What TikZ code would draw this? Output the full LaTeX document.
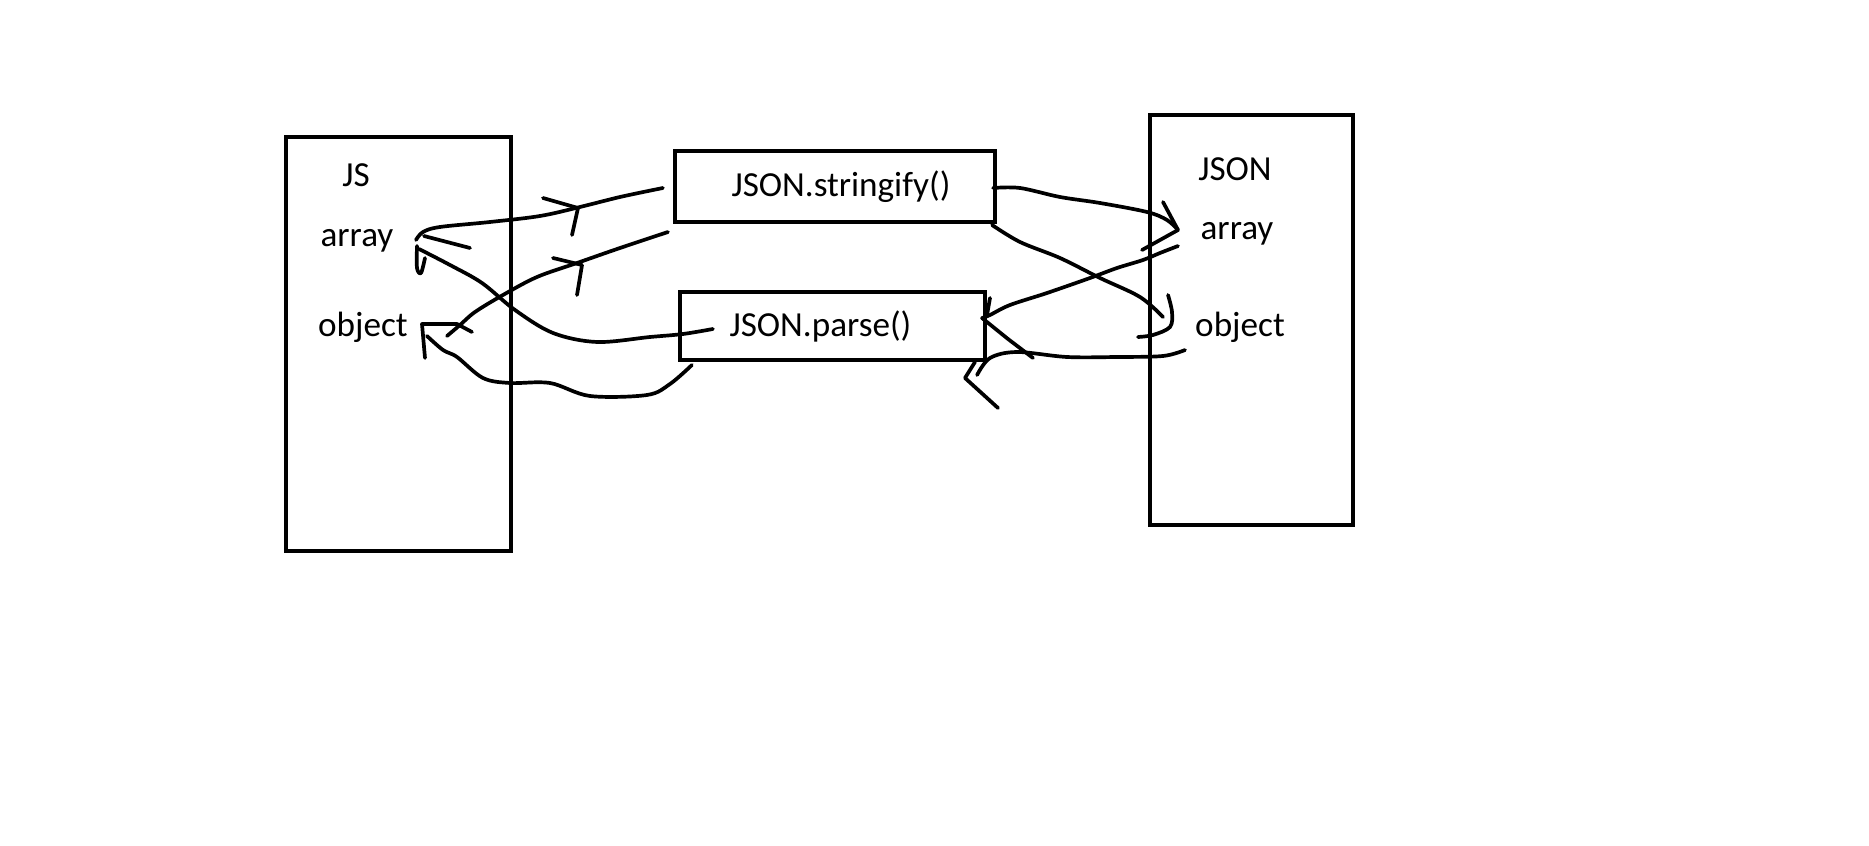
\documentclass[tikz,border=0pt]{standalone}
\usepackage{fontspec}
\setmainfont{Carlito}
\usetikzlibrary{positioning,calc}

\tikzset{
  box/.style={draw, line width=1.3pt, outer sep=0pt, inner sep=0pt},
  lbl/.style={inner sep=1pt, font=\fontsize{10}{12}\selectfont},
  pen/.style={line width=1.05pt, line cap=round, line join=round},
}

\begin{document}
\begin{tikzpicture}[x=0.01cm, y=-0.01cm]
    \path[fill=white, use as bounding box] (0,0) rectangle (1869,846);

    % the two sides
    \node [box, minimum width=2.25cm, minimum height=4.14cm] (js) at (398.5,344) {};
    \node [box, minimum width=2.03cm, minimum height=4.10cm] (json) at (1251.5,320) {};
    \node [lbl] (jslbl) at (356,175) {JS};
    \node [lbl] (jsarr) at (357,241) {array};
    \node [lbl] (jsobj) at (363,327) {object};
    \node [lbl] (jsonlbl) at (1235,169) {JSON};
    \node [lbl] (jsonarr) at (1237,234) {array};
    \node [lbl] (jsonobj) at (1240,327) {object};

    % the two methods
    \node [box, minimum width=3.2cm, minimum height=0.71cm] (strfy) at (835,186.5) {};
    \node [lbl] (strfytxt) at ([xshift=0.06cm]strfy.center) {JSON.stringify()};
    \node [box, minimum width=3.05cm, minimum height=0.68cm] (prs) at (832.5,326) {};
    \node [lbl] (prstxt) at ([xshift=-0.12cm]prs.center) {JSON.parse()};

    \coordinate (aL) at ($(jsarr)+(59,-1)$);
    \coordinate (oL) at ($(jsobj)+(59,-3)$);
    \coordinate (aR) at ($(jsonarr)+(-59,-4)$);
    \coordinate (oR) at ($(jsonobj)+(-69,-9)$);

    % JS -> stringify
    \draw [pen] plot[smooth, tension=0.55] coordinates {(aL) (423,232) (440,227) (490,222) (540,216) (580,207) (620,197) ([shift={(-12,1.5)}]strfy.west)};
    \draw [pen] (543,198) -- (578,208) -- (572,235);
    \draw [pen] plot[smooth, tension=0.55] coordinates {([shift={(84,9)}]jsobj.center) (460,325) (475,312) (503,295) (537,277) (577,263) (620,248) ([shift={(-7,10)}]strfy.south west)};
    \draw [pen] (553,258) -- (582,265) -- (577,295);

    % parse -> JS
    \draw [pen] plot[smooth, tension=0.55] coordinates {([shift={(33,3)}]prs.west) (683,334) (650,337) (597,342) (553,333) (515,310) (482,283) (450,265) ([shift={(3,9)}]aL)};
    \draw [pen] (470,248) -- (424,236);
    \draw [pen] plot[smooth, tension=0.55] coordinates {(417,246) (417,268) (421,273) (425,258)};
    \draw [pen] plot[smooth, tension=0.55] coordinates {([shift={(12,5)}]prs.south west) (670,384) (647,395) (590,396) (550,383) (510,383) (483,378) (457,357) (443,350) ([shift={(5,12)}]oL)};
    \draw [pen] (472,332) -- (457,324) -- (oL) -- (425,358);

    % stringify -> JSON
    \draw [pen] plot[smooth, tension=0.55] coordinates {([shift={(-2,1.5)}]strfy.east) (1020,188) (1060,197) (1100,203) (1147,212) (1167,220) (aR)};
    \draw [pen] (1163,202) -- (aR) -- (1142,250);
    \draw [pen] plot[smooth, tension=0.55] coordinates {([shift={(-3,3)}]strfy.south east) (1020,242) (1060,258) (1100,278) (1140,297) ([shift={(-8,-1)}]oR)};
    \draw [pen] plot[smooth, tension=0.55] coordinates {(1168,295) (1172,312) (1170,327) (1153,335) (1138,337)};

    % JSON -> parse
    \draw [pen] plot[smooth, tension=0.55] coordinates {([shift={(0,16)}]aR) (1160,253) (1143,260) (1117,268) (1090,278) (1047,293) (1010,305) (990,315) ([shift={(-3,-8)}]prs.east)};
    \draw [pen] (990,298) -- (987,315);
    \draw [pen] (982,318) -- (1008,339) -- (1033,358);
    \draw [pen] plot[smooth, tension=0.55] coordinates {([shift={(-55,23)}]jsonobj.center) (1163,356) (1117,357) (1067,357) (1017,352) (990,358) ([shift={(-8,15)}]prs.south east)};
    \draw [pen] (975,362) -- (965,378) -- (998,408);
\end{tikzpicture}
\end{document}
